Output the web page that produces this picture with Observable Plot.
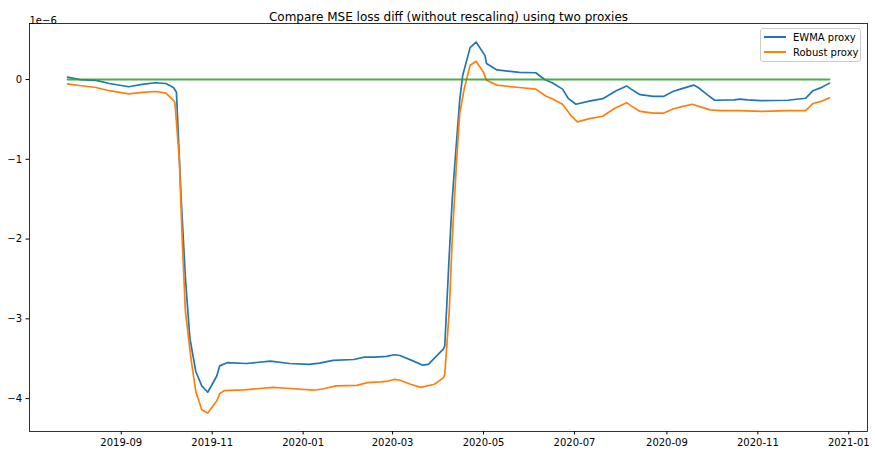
<!DOCTYPE html>
<html>
<head>
<meta charset="utf-8">
<script src="https://cdn.jsdelivr.net/npm/d3@7"></script>
<script src="https://cdn.jsdelivr.net/npm/@observablehq/plot@0.6"></script>
<style>
  html, body { margin: 0; padding: 0; background: white; }
  #wrap { position: relative; width: 875px; height: 455px; font-family: "DejaVu Sans", sans-serif; }
  #legend { position: absolute; left: 760px; top: 28px; width: 101px; height: 34px;
    border: 1px solid #cccccc; border-radius: 3px; background: rgba(255,255,255,0.8);
    font-size: 10px; color: black; box-sizing: border-box; }
  .item { position: absolute; left: 3px; height: 12px; display: flex; align-items: center; white-space: nowrap; }
  .swatch { width: 22px; height: 2px; margin-right: 7px; }
</style>
</head>
<body>
<div id="wrap"></div>
<script>
const title = "Compare MSE loss diff (without rescaling) using two proxies";
const multiplier = "1e−6";
const seriesNames = ["EWMA proxy", "Robust proxy"];
const seriesColors = ["#1f77b4", "#ff7f0e", "#2ca02c"];

const ewmaDates = ["2019-07-27","2019-08-04","2019-08-15","2019-08-24","2019-09-06","2019-09-15","2019-09-24","2019-10-01","2019-10-06","2019-10-08","2019-10-11","2019-10-14","2019-10-17","2019-10-21","2019-10-25","2019-10-29","2019-11-04","2019-11-06","2019-11-11","2019-11-24","2019-12-10","2019-12-23","2020-01-05","2020-01-12","2020-01-21","2020-02-04","2020-02-11","2020-02-18","2020-02-26","2020-03-02","2020-03-06","2020-03-15","2020-03-21","2020-03-25","2020-04-04","2020-04-05","2020-04-08","2020-04-10","2020-04-12","2020-04-15","2020-04-17","2020-04-22","2020-04-26","2020-05-02","2020-05-03","2020-05-10","2020-05-25","2020-06-05","2020-06-11","2020-06-16","2020-06-23","2020-06-27","2020-07-02","2020-07-11","2020-07-20","2020-07-29","2020-08-05","2020-08-08","2020-08-14","2020-08-23","2020-08-30","2020-09-05","2020-09-10","2020-09-19","2020-09-22","2020-09-28","2020-10-03","2020-10-16","2020-10-20","2020-10-25","2020-11-03","2020-11-21","2020-12-03","2020-12-08","2020-12-13","2020-12-19"];
const ewmaValues = [0.03,0.00,-0.01,-0.05,-0.09,-0.06,-0.04,-0.05,-0.10,-0.16,-1.43,-2.48,-3.24,-3.66,-3.84,-3.92,-3.72,-3.59,-3.55,-3.56,-3.53,-3.56,-3.57,-3.555,-3.52,-3.51,-3.48,-3.48,-3.47,-3.45,-3.46,-3.53,-3.58,-3.57,-3.38,-3.34,-2.2,-1.5,-1.0,-0.26,0.05,0.40,0.47,0.30,0.20,0.12,0.09,0.085,0.0,-0.04,-0.12,-0.24,-0.31,-0.27,-0.24,-0.14,-0.08,-0.12,-0.19,-0.21,-0.21,-0.15,-0.12,-0.07,-0.10,-0.19,-0.26,-0.255,-0.245,-0.255,-0.265,-0.26,-0.235,-0.14,-0.105,-0.045];

const robustDates = ["2019-07-27","2019-08-04","2019-08-15","2019-08-24","2019-09-06","2019-09-15","2019-09-24","2019-10-01","2019-10-06","2019-10-07","2019-10-10","2019-10-12","2019-10-14","2019-10-18","2019-10-21","2019-10-25","2019-10-29","2019-11-04","2019-11-06","2019-11-09","2019-11-22","2019-12-12","2019-12-21","2020-01-08","2020-01-14","2020-01-23","2020-02-06","2020-02-13","2020-02-22","2020-02-27","2020-03-02","2020-03-06","2020-03-13","2020-03-20","2020-03-29","2020-04-04","2020-04-05","2020-04-08","2020-04-10","2020-04-13","2020-04-15","2020-04-18","2020-04-22","2020-04-26","2020-05-01","2020-05-03","2020-05-10","2020-05-25","2020-06-05","2020-06-12","2020-06-16","2020-06-23","2020-06-29","2020-07-03","2020-07-11","2020-07-20","2020-07-28","2020-08-05","2020-08-08","2020-08-14","2020-08-23","2020-08-30","2020-09-05","2020-09-11","2020-09-18","2020-09-23","2020-09-30","2020-10-07","2020-10-20","2020-11-03","2020-11-21","2020-12-03","2020-12-08","2020-12-14","2020-12-19"];
const robustValues = [-0.055,-0.075,-0.10,-0.14,-0.18,-0.16,-0.15,-0.17,-0.26,-0.29,-1.02,-2.06,-2.90,-3.53,-3.91,-4.14,-4.18,-4.03,-3.94,-3.90,-3.89,-3.86,-3.87,-3.895,-3.88,-3.84,-3.835,-3.80,-3.79,-3.78,-3.76,-3.77,-3.82,-3.86,-3.82,-3.74,-3.70,-2.9,-2.0,-1.0,-0.43,-0.12,0.18,0.23,0.09,-0.01,-0.07,-0.10,-0.12,-0.21,-0.24,-0.31,-0.46,-0.53,-0.49,-0.46,-0.36,-0.29,-0.33,-0.40,-0.42,-0.42,-0.37,-0.34,-0.31,-0.34,-0.38,-0.39,-0.39,-0.40,-0.39,-0.39,-0.30,-0.27,-0.23];

const zeroDates = ["2019-07-27", "2020-12-19"];
const zeroValues = [0, 0];

const xTicks = ["2019-09-01","2019-11-01","2020-01-01","2020-03-01","2020-05-01","2020-07-01","2020-09-01","2020-11-01","2021-01-01"];
const yTicks = [0, -1, -2, -3, -4];

const toRows = (dates, values) => dates.map((d, i) => ({date: new Date(d + "T00:00:00Z"), value: values[i]}));
const ewma = toRows(ewmaDates, ewmaValues);
const robust = toRows(robustDates, robustValues);
const zero = toRows(zeroDates, zeroValues);

// matplotlib-like 5% margins
const all = [...ewma, ...robust, ...zero];
const [x0, x1] = d3.extent(all, d => +d.date);
const [y0, y1] = d3.extent(all, d => d.value);
const xPad = (x1 - x0) * 0.05, yPad = (y1 - y0) * 0.05;

const chart = Plot.plot({
  width: 875, height: 455,
  marginLeft: 29, marginRight: 8, marginTop: 23, marginBottom: 24,
  style: {fontFamily: "'DejaVu Sans', sans-serif", fontSize: "10px", color: "black", background: "white"},
  x: {type: "utc", domain: [new Date(x0 - xPad), new Date(x1 + xPad)],
      ticks: xTicks.map(d => new Date(d + "T00:00:00Z")), tickFormat: d3.utcFormat("%Y-%m"),
      label: null, tickSize: 3.5, tickPadding: 4},
  y: {domain: [y0 - yPad, y1 + yPad], ticks: yTicks,
      tickFormat: d => d === 0 ? "0" : (d < 0 ? "−" + (-d) : String(d)),
      label: null, tickSize: 3.5, tickPadding: 4},
  marks: [
    Plot.lineY(ewma, {x: "date", y: "value", stroke: seriesColors[0], strokeWidth: 1.7}),
    Plot.lineY(robust, {x: "date", y: "value", stroke: seriesColors[1], strokeWidth: 1.7}),
    Plot.lineY(zero, {x: "date", y: "value", stroke: seriesColors[2], strokeWidth: 2, strokeOpacity: 0.85}),
    Plot.frame({stroke: "black", strokeWidth: 0.8}),
    Plot.text([title], {frameAnchor: "top", dy: -11, fontSize: 12, text: d => d}),
    Plot.text([multiplier], {frameAnchor: "top-left", textAnchor: "start", dy: -7, text: d => d})
  ]
});

const wrap = document.getElementById("wrap");
wrap.appendChild(chart);

const legend = document.createElement("div");
legend.id = "legend";
seriesNames.forEach((name, i) => {
  const item = document.createElement("div");
  item.className = "item";
  item.style.top = (2 + i * 15) + "px";
  const sw = document.createElement("span");
  sw.className = "swatch";
  sw.style.background = seriesColors[i];
  const label = document.createElement("span");
  label.textContent = name;
  item.appendChild(sw);
  item.appendChild(label);
  legend.appendChild(item);
});
wrap.appendChild(legend);
</script>
</body>
</html>
